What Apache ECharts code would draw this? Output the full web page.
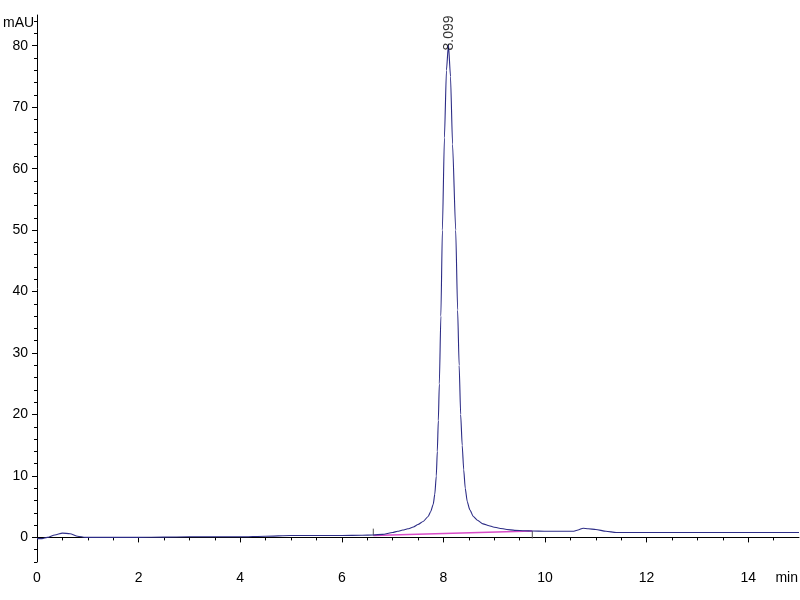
<!DOCTYPE html>
<html>
<head>
<meta charset="utf-8">
<script src="https://cdn.jsdelivr.net/npm/echarts@6/dist/echarts.min.js"></script>
<style>html,body{margin:0;padding:0;background:#fff}#c{width:800px;height:600px}</style>
</head>
<body>
<div id="c"></div>
<script>
// Chromatogram trace (time in min, signal in mAU)
const times = [0, 0.1, 0.2, 0.35, 0.5, 0.65, 0.8, 0.95, 1.5, 2.0, 2.5, 3.0, 3.5, 4.0, 4.5, 5.0, 5.5, 6.0, 6.4, 6.62, 6.8, 7.0, 7.1, 7.2, 7.3, 7.41, 7.5, 7.6, 7.7, 7.75, 7.8, 7.83, 7.86, 7.88, 7.9, 7.92, 7.95, 7.98, 8.02, 8.06, 8.099, 8.14, 8.18, 8.242, 8.28, 8.31, 8.34, 8.37, 8.40, 8.43, 8.47, 8.52, 8.59, 8.67, 8.78, 8.9, 8.98, 9.1, 9.25, 9.4, 9.6, 9.75, 10.0, 10.3, 10.55, 10.65, 10.75, 10.85, 11.0, 11.2, 11.4, 12.0, 13.0, 14.0, 15.0];
const signal = [-0.2, -0.2, 0.0, 0.4, 0.7, 0.6, 0.2, 0.0, 0.0, 0.0, 0.05, 0.1, 0.1, 0.1, 0.2, 0.3, 0.3, 0.3, 0.35, 0.4, 0.5, 0.8, 1.0, 1.2, 1.4, 1.7, 2.1, 2.6, 3.4, 4.2, 5.4, 7.0, 10.0, 14.0, 19.0, 25.0, 36.0, 50.0, 65.0, 76.0, 80.2, 75.0, 64.0, 50.0, 37.0, 28.0, 20.0, 15.0, 11.0, 8.0, 5.8, 4.5, 3.4, 2.8, 2.2, 1.9, 1.7, 1.5, 1.3, 1.15, 1.08, 1.05, 1.0, 1.0, 1.0, 1.2, 1.5, 1.4, 1.3, 1.0, 0.8, 0.8, 0.8, 0.8, 0.8];
// Integration baseline under the main peak
const baseTimes = [6.62, 9.75];
const baseValues = [0.33, 1.03];
// Peak annotation
const peakTime = 8.099;
const peakHeight = 80.2;
const peakLabel = '8.099';
// Axis ticks
const yTicks = [0, 10, 20, 30, 40, 50, 60, 70, 80];
const yMinorTicks = [-4, -2, 0, 2, 4, 6, 8, 10, 12, 14, 16, 18, 20, 22, 24, 26, 28, 30, 32, 34, 36, 38, 40, 42, 44, 46, 48, 50, 52, 54, 56, 58, 60, 62, 64, 66, 68, 70, 72, 74, 76, 78, 80, 82, 84];
const xTicks = [0, 2, 4, 6, 8, 10, 12, 14];
const xMinorTicks = [0.5, 1, 1.5, 2.5, 3, 3.5, 4.5, 5, 5.5, 6.5, 7, 7.5, 8.5, 9, 9.5, 10.5, 11, 11.5, 12.5, 13, 13.5, 14.5];

const FONT = '"Liberation Sans Narrow", "Liberation Sans", Arial, sans-serif';
const trace = times.map((t, i) => [t, signal[i]]);
const base = baseTimes.map((t, i) => [t, baseValues[i]]);

const chart = echarts.init(document.getElementById('c'), null, {renderer: 'canvas'});
const axisCommon = {type: 'value', splitLine: {show: false}};
chart.setOption({
  backgroundColor: '#ffffff',
  animation: false,
  grid: {left: 37, right: 1, top: 15, bottom: 38, containLabel: false},
  xAxis: [
    Object.assign({}, axisCommon, {
      min: 0, max: 15,
      axisLine: {show: true, lineStyle: {color: '#000', width: 1}},
      axisTick: {show: true, length: 5, customValues: xTicks, lineStyle: {color: '#000'}},
      axisLabel: {show: true, customValues: xTicks, margin: 9, color: '#000', fontSize: 14, fontFamily: FONT}
    }),
    Object.assign({}, axisCommon, {
      min: 0, max: 15, position: 'bottom',
      axisLine: {show: false},
      axisTick: {show: true, length: 3, customValues: xMinorTicks, lineStyle: {color: '#000'}},
      axisLabel: {show: false}
    })
  ],
  yAxis: [
    Object.assign({}, axisCommon, {
      min: -4, max: 85,
      axisLine: {show: true, lineStyle: {color: '#000', width: 1}},
      axisTick: {show: true, length: 5, customValues: yTicks, lineStyle: {color: '#000'}},
      axisLabel: {show: true, customValues: yTicks, margin: 9, color: '#000', fontSize: 14, fontFamily: FONT}
    }),
    Object.assign({}, axisCommon, {
      min: -4, max: 85, position: 'left',
      axisLine: {show: false},
      axisTick: {show: true, length: 3, customValues: yMinorTicks, lineStyle: {color: '#000'}},
      axisLabel: {show: false}
    })
  ],
  graphic: [
    {type: 'text', left: 3, top: 16, style: {text: 'mAU', fill: '#000', font: '14px ' + FONT}},
    {type: 'text', right: 2, top: 571, style: {text: 'min', fill: '#000', font: '14px ' + FONT}}
  ],
  series: [
    {
      type: 'line', data: base, showSymbol: false, silent: true,
      lineStyle: {color: '#d84cc8', width: 1.5}, z: 2
    },
    {
      type: 'line', data: [[baseTimes[0], baseValues[0]], [baseTimes[0], baseValues[0] + 1.1]],
      showSymbol: false, silent: true, lineStyle: {color: '#555', width: 1}, z: 3
    },
    {
      type: 'line', data: [[baseTimes[1], baseValues[1]], [baseTimes[1], baseValues[1] - 1.2]],
      showSymbol: false, silent: true, lineStyle: {color: '#555', width: 1}, z: 3
    },
    {
      type: 'line', data: trace, showSymbol: false, smooth: 0.2, smoothMonotone: 'x', silent: true,
      lineStyle: {color: '#2c2c86', width: 1.1}, z: 4
    },
    {
      type: 'scatter', data: [[peakTime, peakHeight]], symbolSize: 0.1, silent: true, z: 5,
      label: {
        show: true, formatter: peakLabel, rotate: 90, position: 'inside',
        align: 'left', verticalAlign: 'middle', offset: [-6, 1],
        color: '#000', fontSize: 14, fontFamily: FONT
      }
    }
  ]
});
</script>
</body>
</html>
